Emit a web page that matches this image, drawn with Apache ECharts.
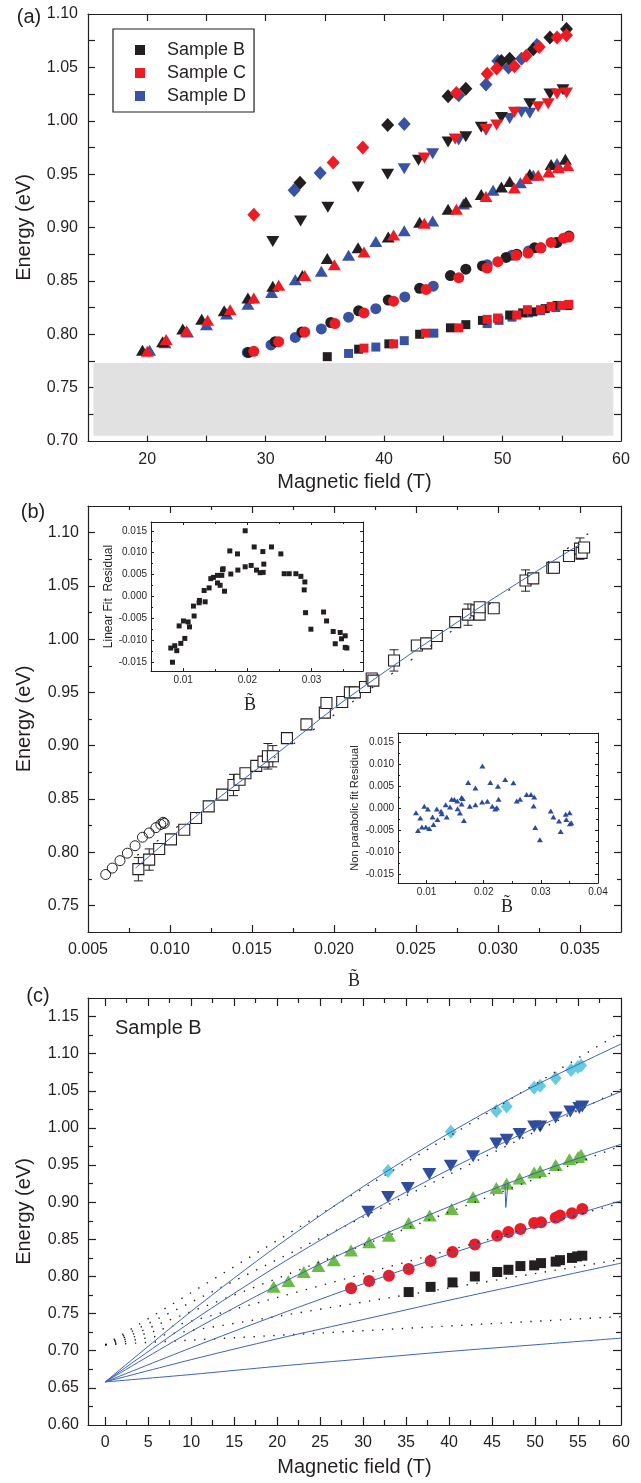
<!DOCTYPE html>
<html>
<head>
<meta charset="utf-8">
<script src="https://cdn.jsdelivr.net/npm/echarts@6.0.0/dist/echarts.min.js"></script>
<style>
  html, body { margin: 0; padding: 0; background: #fff; }
  #chart { width: 641px; height: 1483px; }
</style>
</head>
<body>
<div id="chart"></div>
<script>
// ---------- panel (a): energy vs field, samples B / C / D ----------
const aShadeX = [15.45, 59.35];
const aShadeY = [0.705, 0.773];

const aBSquare = [[35.2,0.779],[37.85,0.786],[40.4,0.791],[43.0,0.800],[45.6,0.806],[46.9,0.809],[48.3,0.813],[49.6,0.815],[50.6,0.818],[51.7,0.820],[52.55,0.821],[53.6,0.824],[54.6,0.827],[55.5,0.827]];
const aCSquare = [[38.3,0.787],[40.8,0.791],[43.5,0.801],[46.3,0.806],[48.7,0.814],[49.6,0.815],[51.2,0.818],[52.1,0.823],[53.2,0.823],[54.1,0.826],[55.0,0.827],[55.6,0.828]];
const aDSquare = [[37.0,0.782],[39.3,0.788],[41.7,0.794],[44.2,0.801],[48.7,0.810],[49.7,0.813],[50.8,0.816],[52.2,0.820],[53.2,0.822],[54.5,0.825],[55.5,0.827]];

const aBCircle = [[28.55,0.783],[30.8,0.793],[33.05,0.802],[35.5,0.811],[37.85,0.822],[40.35,0.832],[43.0,0.843],[45.6,0.855],[46.9,0.861],[48.3,0.864],[50.3,0.872],[51.2,0.875],[52.7,0.881],[54.55,0.886],[55.6,0.892]];
const aCCircle = [[29.0,0.784],[31.1,0.793],[33.3,0.802],[35.85,0.810],[38.3,0.820],[40.8,0.831],[43.55,0.842],[46.3,0.853],[48.7,0.862],[49.6,0.868],[51.15,0.874],[52.15,0.876],[53.2,0.881],[54.1,0.886],[55.15,0.890],[55.6,0.891]];
const aDCircle = [[28.45,0.783],[30.45,0.790],[32.5,0.797],[34.7,0.805],[37.0,0.816],[39.3,0.824],[41.75,0.835],[44.15,0.845],[48.7,0.865],[50.8,0.874],[52.2,0.878],[53.25,0.881],[54.6,0.886]];

const aBUp = [[19.6,0.785],[21.3,0.793],[23.0,0.805],[24.6,0.814],[26.5,0.822],[28.5,0.834],[30.6,0.845],[33.1,0.855],[35.2,0.871],[37.8,0.881],[40.35,0.891],[43.0,0.905],[45.4,0.917],[46.9,0.924],[48.2,0.931],[49.9,0.938],[50.6,0.943],[52.3,0.950],[54.1,0.959],[55.3,0.964]];
const aCUp = [[20.0,0.784],[21.6,0.795],[23.3,0.803],[25.1,0.813],[27.0,0.823],[29.0,0.834],[31.1,0.846],[33.3,0.855],[35.8,0.865],[38.3,0.877],[40.8,0.893],[43.4,0.904],[46.1,0.917],[48.6,0.929],[51.0,0.937],[52.0,0.946],[53.0,0.949],[53.9,0.952],[54.7,0.956],[55.5,0.958]];
const aDUp = [[20.2,0.785],[21.5,0.792],[23.4,0.802],[25.0,0.809],[26.7,0.819],[28.5,0.828],[30.5,0.839],[32.5,0.851],[34.7,0.859],[37.0,0.874],[39.3,0.887],[41.7,0.897],[44.1,0.906],[46.7,0.922],[49.2,0.935],[51.5,0.942],[52.6,0.949],[54.6,0.960]];

const aBDown = [[30.6,0.887],[32.95,0.906],[35.25,0.919],[37.8,0.938],[40.3,0.950],[42.9,0.963],[45.4,0.980],[46.9,0.985],[48.2,0.994],[49.9,1.003],[52.3,1.016],[54.0,1.025],[55.1,1.029]];
const aCDown = [[43.4,0.965],[46.0,0.983],[48.6,0.992],[49.5,0.996],[51.0,1.008],[53.0,1.013],[53.85,1.016],[54.6,1.025],[55.4,1.026]];
const aDDown = [[41.7,0.955],[44.1,0.969],[46.3,0.982],[48.6,0.991],[50.6,1.002],[51.6,1.008],[52.3,1.007]];

const aBDiamond = [[32.9,0.942],[40.3,0.996],[45.4,1.023],[46.9,1.030],[49.9,1.056],[50.6,1.058],[52.6,1.067],[54.0,1.078],[55.4,1.086]];
const aCDiamond = [[29.0,0.912],[35.7,0.961],[38.2,0.975],[46.1,1.026],[48.7,1.044],[49.5,1.049],[51.0,1.051],[52.0,1.061],[53.1,1.069],[54.6,1.078],[55.4,1.080]];
const aDDiamond = [[32.4,0.935],[34.6,0.951],[41.7,0.997],[46.3,1.024],[48.6,1.034],[49.6,1.056],[50.5,1.050],[51.6,1.058],[52.9,1.071]];

const aXLabels = [20, 30, 40, 50, 60];
const aXTicks = [20, 25, 30, 35, 40, 45, 50, 55];
const aYLabels = [0.70, 0.75, 0.80, 0.85, 0.90, 0.95, 1.00, 1.05, 1.10];
const aYTicks = [0.725, 0.75, 0.775, 0.80, 0.825, 0.85, 0.875, 0.90, 0.925, 0.95, 0.975, 1.00, 1.025, 1.05, 1.075];

// ---------- panel (b): energy vs B-tilde ----------
const bSquares = [[0.00807,0.784],[0.00873,0.793],[0.00934,0.803],[0.01006,0.812],[0.01087,0.821],[0.01159,0.832],[0.01236,0.843],[0.01318,0.854],[0.01387,0.863],[0.01424,0.868],[0.01460,0.874],[0.01526,0.881],[0.01570,0.885],[0.01597,0.890],[0.01627,0.890],[0.01713,0.907],[0.01832,0.920],[0.01944,0.931],[0.01954,0.940],[0.02050,0.941],[0.02097,0.950],[0.02127,0.950],[0.02189,0.955],[0.02230,0.963],[0.02240,0.961],[0.02366,0.980],[0.02505,0.994],[0.02562,0.996],[0.02627,1.003],[0.02739,1.016],[0.02817,1.023],[0.02868,1.027],[0.02888,1.023],[0.02888,1.030],[0.02974,1.029],[0.03168,1.055],[0.03215,1.057],[0.03331,1.067],[0.03341,1.067],[0.03433,1.078],[0.03500,1.085],[0.03510,1.081],[0.03525,1.086]];
const bErrBars = [[0.00807,0.784,0.011],[0.00873,0.793,0.010],[0.01387,0.863,0.010],[0.01597,0.890,0.012],[0.01627,0.890,0.010],[0.02366,0.980,0.010],[0.02817,1.023,0.010],[0.03168,1.055,0.010],[0.03500,1.085,0.010]];
const bCircles = [[0.00608,0.779],[0.00648,0.785],[0.00695,0.792],[0.00740,0.799],[0.00787,0.806],[0.00832,0.814],[0.00873,0.818],[0.00914,0.823],[0.00944,0.826],[0.00958,0.828],[0.00965,0.827]];
const bNonParFit = [[0.0079,0.785],[0.0124,0.844],[0.0159,0.885],[0.0206,0.942],[0.0285,1.026],[0.0350,1.089]];
const bLinearFit = [[0.0080,0.797],[0.0355,1.099]];

const bXLabels = [0.005, 0.010, 0.015, 0.020, 0.025, 0.030, 0.035];
const bXMajor = [0.010, 0.015, 0.020, 0.025, 0.030, 0.035];
const bXMinor = [0.0075, 0.0125, 0.0175, 0.0225, 0.0275, 0.0325];
const bYLabels = [0.75, 0.80, 0.85, 0.90, 0.95, 1.00, 1.05, 1.10];
const bYMinor = [0.775, 0.825, 0.875, 0.925, 0.975, 1.025, 1.075];

// insets of panel (b)
const resLinear = [[0.00808,-0.01176],[0.0087,-0.01123],[0.00834,-0.0150],[0.00901,-0.01236],[0.00938,-0.00671],[0.00964,-0.0107],[0.01005,-0.00558],[0.01026,-0.00957],[0.01078,-0.0058],[0.01099,-0.00693],[0.01161,-0.00219],[0.01171,-0.00445],[0.01249,-0.00143],[0.01254,-0.0009],[0.01327,0.00136],[0.01343,-0.00121],[0.01405,0.00196],[0.01431,0.00407],[0.01472,0.00437],[0.01535,0.00482],[0.01535,0.00309],[0.01576,0.00256],[0.01602,0.00482],[0.01613,0.00611],[0.01623,0.00633],[0.01644,0.00121],[0.01727,0.0104],[0.01742,0.00513],[0.01846,0.00972],[0.01852,0.00603],[0.01966,0.00678],[0.01966,0.0150],[0.02059,0.00709],[0.02106,0.01131],[0.02142,0.00603],[0.02199,0.00543],[0.02241,0.01025],[0.02246,0.0055],[0.02256,0.00739],[0.02376,0.01131],[0.02521,0.00972],[0.02573,0.0052],[0.02651,0.0052],[0.02755,0.0052],[0.02833,0.0046],[0.02895,0.00332],[0.02885,0.00151],[0.02906,-0.00369],[0.02989,-0.00746],[0.03186,-0.00354],[0.03233,-0.00558],[0.03336,-0.00799],[0.03368,-0.01078],[0.03445,-0.00822],[0.03466,-0.00965],[0.03523,-0.00897],[0.03523,-0.01161],[0.03549,-0.01176]];
const resNonPar = [[0.00815,-0.00106],[0.0085,-0.00509],[0.0089,-0.00228],[0.00919,-0.00433],[0.0096,0.00038],[0.00988,-0.00433],[0.01023,-0.00023],[0.01046,-0.00464],[0.01104,-0.00205],[0.01121,-0.00372],[0.01179,-0.00023],[0.01191,-0.00258],[0.01254,-0.00076],[0.01266,-0.00129],[0.01335,0.00076],[0.01353,-0.00205],[0.0141,0.00023],[0.01439,0.00198],[0.01486,0.0019],[0.01538,0.0016],[0.01543,-0.00015],[0.01584,-0.00114],[0.01613,0.00091],[0.01613,0.00236],[0.0163,0.00213],[0.01653,-0.00281],[0.01728,0.00578],[0.01757,0.00038],[0.01855,0.00456],[0.01855,0.00076],[0.01971,0.00137],[0.01977,0.0095],[0.02064,0.00152],[0.02116,0.00578],[0.0215,0.00038],[0.02202,-0.00023],[0.02231,0.00008],[0.02249,0.00494],[0.0226,0.00198],[0.02376,0.00646],[0.0252,0.0057],[0.02578,0.0016],[0.02636,0.00198],[0.02751,0.00304],[0.02827,0.00304],[0.02884,0.00251],[0.02873,0.00046],[0.02902,-0.00441],[0.02983,-0.00722],[0.03173,-0.00068],[0.0322,-0.00205],[0.03318,-0.00296],[0.03347,-0.00532],[0.03434,-0.00144],[0.03445,-0.00258],[0.03503,-0.00106],[0.03509,-0.00357],[0.03532,-0.00334]];

const insYLabels = [-0.015, -0.010, -0.005, 0.000, 0.005, 0.010, 0.015];
const insYMinor = [-0.0125, -0.0075, -0.0025, 0.0025, 0.0075, 0.0125];
const ins1XLabels = [0.01, 0.02, 0.03];
const ins1XMinor = [0.015, 0.025, 0.035];
const ins2XLabels = [0.01, 0.02, 0.03, 0.04];
const ins2XMajor = [0.01, 0.02, 0.03];
const ins2XMinor = [0.015, 0.025, 0.035];

// ---------- panel (c): sample B with fits ----------
const cSquares = [[35.3,0.779],[37.85,0.786],[40.4,0.792],[43.0,0.800],[45.6,0.806],[46.9,0.809],[48.3,0.814],[49.9,0.815],[50.7,0.818],[52.4,0.820],[52.9,0.822],[54.3,0.825],[54.9,0.827],[55.5,0.828]];
const cCircles = [[28.6,0.784],[30.7,0.794],[33.0,0.801],[35.3,0.810],[37.85,0.821],[40.4,0.833],[43.0,0.843],[45.6,0.855],[46.9,0.860],[48.3,0.864],[49.9,0.872],[50.7,0.873],[52.4,0.879],[52.9,0.882],[54.3,0.885],[55.5,0.891]];
const cUp = [[19.6,0.786],[21.3,0.794],[23.1,0.806],[24.8,0.814],[26.6,0.822],[28.6,0.835],[30.7,0.846],[33.0,0.855],[35.3,0.872],[37.75,0.882],[40.3,0.891],[42.8,0.907],[45.5,0.919],[46.7,0.925],[48.2,0.932],[49.9,0.940],[50.6,0.942],[52.4,0.950],[54.0,0.958],[55.0,0.961],[55.35,0.964]];
const cDown = [[30.6,0.887],[32.9,0.907],[35.2,0.919],[37.7,0.938],[40.2,0.949],[42.8,0.962],[45.5,0.979],[46.7,0.984],[48.2,0.992],[49.9,1.002],[50.6,1.002],[52.4,1.014],[54.1,1.022],[55.15,1.027],[55.5,1.029]];
const cDiamond = [[32.9,0.942],[40.2,0.995],[45.5,1.023],[46.7,1.029],[49.9,1.054],[50.6,1.057],[52.4,1.067],[54.2,1.078],[55.0,1.082],[55.35,1.084]];

const cFit1 = [[0,0.658],[10,0.753],[20,0.841],[30,0.921],[40,0.993],[50,1.057],[60,1.113]];
const cFit2 = [[0,0.658],[10,0.739],[20,0.814],[30,0.882],[40,0.944],[50,1.000],[60,1.049]];
const cFit3 = [[0,0.658],[10,0.726],[20,0.788],[30,0.844],[40,0.894],[50,0.939],[60,0.978]];
const cFit4 = [[0,0.658],[10,0.704],[20,0.748],[30,0.790],[40,0.830],[50,0.867],[60,0.902]];
const cFit5 = [[0,0.658],[10,0.688],[20,0.716],[30,0.742],[40,0.768],[50,0.793],[60,0.818]];
const cFit6 = [[0,0.658],[10,0.668],[20,0.679],[30,0.689],[40,0.699],[50,0.708],[60,0.717]];
const cFitSpike = [[46.5,0.924],[46.6,0.893],[46.75,0.893],[46.85,0.925]];
const cPar1 = [[0,0.708],[60,1.129]];
const cPar2 = [[0,0.708],[60,1.052]];
const cPar3 = [[0,0.708],[60,0.976]];
const cPar4 = [[0,0.708],[60,0.899]];
const cPar5 = [[0,0.708],[60,0.823]];
const cPar6 = [[0,0.708],[60,0.746]];

const cXLabels = [0, 5, 10, 15, 20, 25, 30, 35, 40, 45, 50, 55, 60];
const cXMajor = [0, 5, 10, 15, 20, 25, 30, 35, 40, 45, 50, 55];
const cXMinor = [2.5, 7.5, 12.5, 17.5, 22.5, 27.5, 32.5, 37.5, 42.5, 47.5, 52.5, 57.5];
const cYLabels = [0.60, 0.65, 0.70, 0.75, 0.80, 0.85, 0.90, 0.95, 1.00, 1.05, 1.10, 1.15];
const cYMajor = [0.65, 0.70, 0.75, 0.80, 0.85, 0.90, 0.95, 1.00, 1.05, 1.10, 1.15];
const cYMinor = [0.625, 0.675, 0.725, 0.775, 0.825, 0.875, 0.925, 0.975, 1.025, 1.075, 1.125];

// ---------- styling ----------
const INK = '#231f20';
const RED = '#ed1c24';
const BLUE = '#3953a4';
const LINEBLUE = '#3d63b8';
const SANS = '"Liberation Sans", Arial, sans-serif';
const SERIF = '"Liberation Serif", "Times New Roman", serif';

const fix = d => v => v.toFixed(d);

// four axes per side pair: labelled main, its minor ticks, mirrored main, mirrored minor
function axisSet(dim, grid, min, max, s) {
  const sides = dim === 'x' ? ['bottom', 'top'] : ['left', 'right'];
  const ls = { color: INK, width: s.lw || 1.2 };
  const base = { type: 'value', gridIndex: grid, min: min, max: max, splitLine: { show: false }, silent: true };
  const ticks = (vals, len) => ({ show: vals.length > 0, inside: true, length: len, customValues: vals, lineStyle: ls });
  const shown = { show: true, onZero: false, lineStyle: ls };
  const hidden = { show: false, onZero: false };
  const noLabel = { show: false };
  return [
    Object.assign({}, base, {
      position: sides[0],
      axisLine: shown,
      axisTick: ticks(s.major, s.len),
      axisLabel: { show: true, customValues: s.labels, formatter: s.fmt, margin: s.margin,
        fontSize: s.fs, color: INK, fontFamily: SANS },
      name: s.name || '', nameLocation: 'middle', nameGap: s.nameGap || 0,
      nameTextStyle: { fontSize: s.nameSize || 20, color: INK, fontFamily: SANS }
    }),
    Object.assign({}, base, { position: sides[0], axisLine: hidden, axisTick: ticks(s.minor, s.len2), axisLabel: noLabel }),
    Object.assign({}, base, { position: sides[1], axisLine: shown, axisTick: ticks(s.major, s.len), axisLabel: noLabel }),
    Object.assign({}, base, { position: sides[1], axisLine: hidden, axisTick: ticks(s.minor, s.len2), axisLabel: noLabel })
  ];
}

function dots(grid, name, data, symbol, size, color, extra) {
  return Object.assign({
    type: 'scatter', name: name, data: data, symbol: symbol, symbolSize: size,
    xAxisIndex: grid * 4, yAxisIndex: grid * 4, silent: true,
    itemStyle: { color: color, opacity: 1 }
  }, extra || {});
}

function curve(grid, data, color, width, type, smooth) {
  return {
    type: 'line', data: data, xAxisIndex: grid * 4, yAxisIndex: grid * 4,
    symbol: 'none', smooth: smooth, silent: true,
    lineStyle: { color: color, width: width, type: type }
  };
}

const down = { symbolRotate: 180 };

const xAxes = [].concat(
  axisSet('x', 0, 15, 60, { labels: aXLabels, major: aXTicks, minor: [], len: 7, margin: 11, fs: 16, fmt: fix(0),
    name: 'Magnetic field (T)', nameGap: 31 }),
  axisSet('x', 1, 0.005, 0.0375, { labels: bXLabels, major: bXMajor, minor: bXMinor, len: 7, len2: 4, margin: 10, fs: 16, fmt: fix(3) }),
  axisSet('x', 2, -2, 60, { labels: cXLabels, major: cXMajor, minor: cXMinor, len: 8, len2: 5, margin: 10, fs: 16, fmt: fix(0),
    name: 'Magnetic field (T)', nameGap: 32 }),
  axisSet('x', 3, 0.005, 0.038, { labels: ins1XLabels, major: ins1XLabels, minor: ins1XMinor, len: 3, len2: 2, margin: 4, fs: 10, fmt: fix(2), lw: 1 }),
  axisSet('x', 4, 0.005, 0.04, { labels: ins2XLabels, major: ins2XMajor, minor: ins2XMinor, len: 3, len2: 2, margin: 4, fs: 10, fmt: fix(2), lw: 1 })
);
const yAxes = [].concat(
  axisSet('y', 0, 0.70, 1.10, { labels: aYLabels, major: aYTicks, minor: [], len: 7, margin: 10, fs: 16, fmt: fix(2),
    name: 'Energy (eV)', nameGap: 54 }),
  axisSet('y', 1, 0.725, 1.125, { labels: bYLabels, major: bYLabels, minor: bYMinor, len: 7, len2: 4, margin: 9, fs: 16, fmt: fix(2),
    name: 'Energy (eV)', nameGap: 54 }),
  axisSet('y', 2, 0.60, 1.175, { labels: cYLabels, major: cYMajor, minor: cYMinor, len: 8, len2: 5, margin: 9, fs: 16, fmt: fix(2),
    name: 'Energy (eV)', nameGap: 54 }),
  axisSet('y', 3, -0.017, 0.017, { labels: insYLabels, major: insYLabels, minor: insYMinor, len: 3, len2: 2, margin: 4, fs: 10, fmt: fix(3), lw: 1,
    name: 'Linear Fit  Residual', nameGap: 36, nameSize: 12 }),
  axisSet('y', 4, -0.017, 0.017, { labels: insYLabels, major: insYLabels, minor: insYMinor, len: 3, len2: 2, margin: 4, fs: 10, fmt: fix(3), lw: 1,
    name: 'Non parabolic fit Residual', nameGap: 38, nameSize: 11 })
);

const gridBase = { containLabel: false, outerBoundsMode: 'none' };

const option = {
  animation: false,
  backgroundColor: '#fff',
  grid: [
    Object.assign({ left: 88, top: 14, width: 533, height: 427 }, gridBase),
    Object.assign({ left: 88, top: 506, width: 533, height: 426 }, gridBase),
    Object.assign({ left: 88, top: 998, width: 533, height: 427 }, gridBase),
    Object.assign({ left: 151, top: 522, width: 212, height: 149 }, gridBase),
    Object.assign({ left: 398, top: 733, width: 200, height: 150 }, gridBase)
  ],
  xAxis: xAxes,
  yAxis: yAxes,
  legend: {
    data: ['Sample B', 'Sample C', 'Sample D'],
    orient: 'vertical', left: 113, top: 29,
    icon: 'rect', itemWidth: 10, itemHeight: 10, itemGap: 5,
    borderColor: INK, borderWidth: 1.2, padding: [12, 8, 7, 22],
    selectedMode: false,
    textStyle: { fontSize: 18, lineHeight: 18, color: INK, fontFamily: SANS, padding: [0, 0, 0, 17] }
  },
  graphic: [
    { type: 'text', x: 29, y: 17, style: { text: '(a)', font: '20px ' + SANS, fill: INK, align: 'center', verticalAlign: 'middle' } },
    { type: 'text', x: 33, y: 512, style: { text: '(b)', font: '20px ' + SANS, fill: INK, align: 'center', verticalAlign: 'middle' } },
    { type: 'text', x: 38, y: 996, style: { text: '(c)', font: '20px ' + SANS, fill: INK, align: 'center', verticalAlign: 'middle' } },
    { type: 'text', x: 115, y: 1028, style: { text: 'Sample B', font: '20px ' + SANS, fill: INK, align: 'left', verticalAlign: 'middle' } },
    { type: 'text', x: 354, y: 981, style: { text: 'B\u0303', font: '18px ' + SERIF, fill: INK, align: 'center', verticalAlign: 'middle' } },
    { type: 'text', x: 250, y: 705, style: { text: 'B\u0303', font: '18px ' + SERIF, fill: INK, align: 'center', verticalAlign: 'middle' } },
    { type: 'text', x: 507, y: 907, style: { text: 'B\u0303', font: '18px ' + SERIF, fill: INK, align: 'center', verticalAlign: 'middle' } }
  ],
  series: [
    // (a) order: D, B, C so red sits on top
    dots(0, 'Sample D', aDSquare, 'rect', 9, BLUE, {
      markArea: { silent: true, itemStyle: { color: '#e1e1e1' },
        data: [[{ coord: [aShadeX[0], aShadeY[1]] }, { coord: [aShadeX[1], aShadeY[0]] }]] }
    }),
    dots(0, 'D circles', aDCircle, 'circle', 11, BLUE),
    dots(0, 'D up', aDUp, 'triangle', [13, 11], BLUE),
    dots(0, 'D down', aDDown, 'triangle', [13, 11], BLUE, down),
    dots(0, 'D diamonds', aDDiamond, 'diamond', [13, 14], BLUE),
    dots(0, 'Sample B', aBSquare, 'rect', 9, INK),
    dots(0, 'B circles', aBCircle, 'circle', 11, INK),
    dots(0, 'B up', aBUp, 'triangle', [13, 11], INK),
    dots(0, 'B down', aBDown, 'triangle', [13, 11], INK, down),
    dots(0, 'B diamonds', aBDiamond, 'diamond', [13, 14], INK),
    dots(0, 'Sample C', aCSquare, 'rect', 9, RED),
    dots(0, 'C circles', aCCircle, 'circle', 11, RED),
    dots(0, 'C up', aCUp, 'triangle', [13, 11], RED),
    dots(0, 'C down', aCDown, 'triangle', [13, 11], RED, down),
    dots(0, 'C diamonds', aCDiamond, 'diamond', [13, 14], RED),

    // (b)
    curve(1, bLinearFit, INK, 1.2, [2, 22], false),
    curve(1, bNonParFit, LINEBLUE, 1, 'solid', 0.3),
    {
      type: 'custom', xAxisIndex: 4, yAxisIndex: 4, data: bErrBars, silent: true,
      renderItem: function (params, api) {
        const x = api.value(0), y = api.value(1), e = api.value(2);
        const hi = api.coord([x, y + e]), lo = api.coord([x, y - e]);
        const w = 4.5, st = { stroke: INK, lineWidth: 1 };
        return { type: 'group', children: [
          { type: 'line', shape: { x1: hi[0], y1: hi[1], x2: lo[0], y2: lo[1] }, style: st },
          { type: 'line', shape: { x1: hi[0] - w, y1: hi[1], x2: hi[0] + w, y2: hi[1] }, style: st },
          { type: 'line', shape: { x1: lo[0] - w, y1: lo[1], x2: lo[0] + w, y2: lo[1] }, style: st }
        ] };
      }
    },
    dots(1, 'b squares', bSquares, 'rect', 11, '#fff', { itemStyle: { color: '#fff', borderColor: INK, borderWidth: 1.1, opacity: 1 } }),
    dots(1, 'b circles', bCircles, 'circle', 10, 'rgba(0,0,0,0)', { itemStyle: { color: 'rgba(0,0,0,0)', borderColor: INK, borderWidth: 1, opacity: 1 } }),

    // insets
    dots(3, 'linear residual', resLinear, 'rect', 5, INK),
    dots(4, 'nonparabolic residual', resNonPar, 'triangle', [6, 5], '#2e4a9e'),

    // (c)
    curve(2, cPar1, INK, 1.4, [1.4, 8.5], false),
    curve(2, cPar2, INK, 1.4, [1.4, 8.5], false),
    curve(2, cPar3, INK, 1.4, [1.4, 8.5], false),
    curve(2, cPar4, INK, 1.4, [1.4, 8.5], false),
    curve(2, cPar5, INK, 1.4, [1.4, 8.5], false),
    curve(2, cPar6, INK, 1.4, [1.4, 8.5], false),
    curve(2, cFit1, LINEBLUE, 1, 'solid', 0.3),
    curve(2, cFit2, LINEBLUE, 1, 'solid', 0.3),
    curve(2, cFit3, LINEBLUE, 1, 'solid', 0.3),
    curve(2, cFit4, LINEBLUE, 1, 'solid', 0.3),
    curve(2, cFit5, LINEBLUE, 1, 'solid', 0.3),
    curve(2, cFit6, LINEBLUE, 1, 'solid', 0.3),
    curve(2, cFitSpike, LINEBLUE, 1, 'solid', false),
    dots(2, 'c squares', cSquares, 'rect', 10, INK),
    dots(2, 'c circles', cCircles, 'circle', 12, RED),
    dots(2, 'c up', cUp, 'triangle', [14, 12], '#6cbb47'),
    dots(2, 'c down', cDown, 'triangle', [14, 12], '#2f4d9c', down),
    dots(2, 'c diamonds', cDiamond, 'diamond', [12, 14], '#66cbe0')
  ]
};

const chart = echarts.init(document.getElementById('chart'), null, { renderer: 'canvas' });
chart.setOption(option);
window.addEventListener('resize', () => chart.resize());
</script>
</body>
</html>
